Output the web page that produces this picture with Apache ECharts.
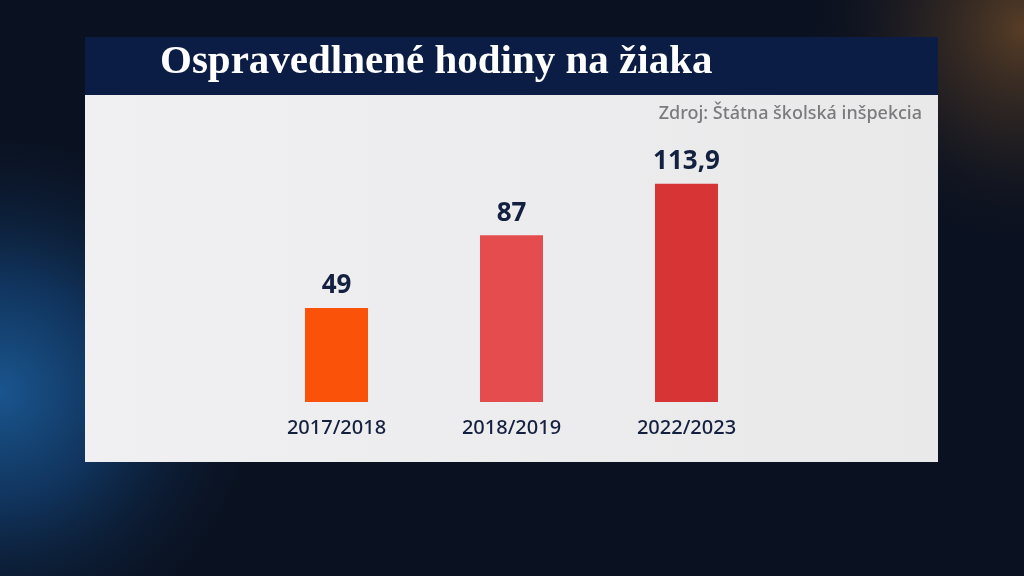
<!DOCTYPE html>
<html><head><meta charset="utf-8">
<script src="https://cdn.jsdelivr.net/npm/echarts@6/dist/echarts.min.js"></script>
<style>html,body{margin:0;padding:0;background:#0a1120;}#c{width:1024px;height:576px;}</style>
</head><body><div id="c"></div>
<script>
const categories = ['2017/2018', '2018/2019', '2022/2023'];
const values = [49, 87, 113.9];
const valueLabels = ['49', '87', '113,9'];
const barColors = ['#fa5209', '#e44c4e', '#d73535'];
const titleText = 'Ospravedlnené hodiny na žiaka';
const sourceText = 'Zdroj: Štátna školská inšpekcia';

const chart = echarts.init(document.getElementById('c'));
chart.setOption({
  animation: false,
  backgroundColor: '#0a1120',
  graphic: [
    { type: 'rect', z: -10, shape: { x: 0, y: 0, width: 1024, height: 576 },
      style: { fill: new echarts.graphic.RadialGradient(0.0, 0.68, 0.5, [
        { offset: 0, color: '#1a558e' }, { offset: 0.4, color: '#10325a' }, { offset: 1, color: 'rgba(10,17,32,0)' }]) } },
    { type: 'rect', z: -9, shape: { x: 0, y: 0, width: 1024, height: 576 },
      style: { fill: new echarts.graphic.RadialGradient(1.0, 0.05, 0.4, [
        { offset: 0, color: 'rgba(120,80,40,0.7)' }, { offset: 0.5, color: 'rgba(60,45,35,0.45)' }, { offset: 1, color: 'rgba(10,17,32,0)' }]) } },
    { type: 'rect', z: -5, shape: { x: 85, y: 37, width: 853, height: 58 }, style: { fill: '#0b1d45' } },
    { type: 'rect', z: -5, shape: { x: 85, y: 95, width: 853, height: 367 },
      style: { fill: new echarts.graphic.LinearGradient(0, 0, 1, 0, [
        { offset: 0, color: '#f0f0f2' }, { offset: 1, color: '#e9e9ea' }]) } },
    { type: 'text', z: 5, left: 160, top: 42,
      style: { text: titleText, fill: '#ffffff', font: 'bold 41px "Liberation Serif", "DejaVu Serif", serif' } },
    { type: 'text', z: 5, right: 1024 - 922, top: 105,
      style: { text: sourceText, fill: '#7b7b7d', font: '500 18px "Noto Sans", sans-serif', textAlign: 'right' } }
  ],
  grid: { left: 249, width: 525, bottom: 174, top: 172, containLabel: false },
  xAxis: {
    type: 'category', data: categories,
    axisLine: { show: false }, axisTick: { show: false },
    axisLabel: { color: '#13203f', fontSize: 20, fontFamily: 'Noto Sans', fontWeight: 500, margin: 16 }
  },
  yAxis: { type: 'value', min: 0, max: 120, show: false, splitLine: { show: false } },
  series: [{
    type: 'bar', barWidth: 63,
    data: values.map((v, i) => ({ value: v, itemStyle: { color: barColors[i] } })),
    label: {
      show: true, position: 'top', distance: 9,
      formatter: p => valueLabels[p.dataIndex],
      color: '#13203f', fontSize: 26, fontWeight: 'bold', fontFamily: 'Noto Sans'
    }
  }]
});
</script></body></html>
